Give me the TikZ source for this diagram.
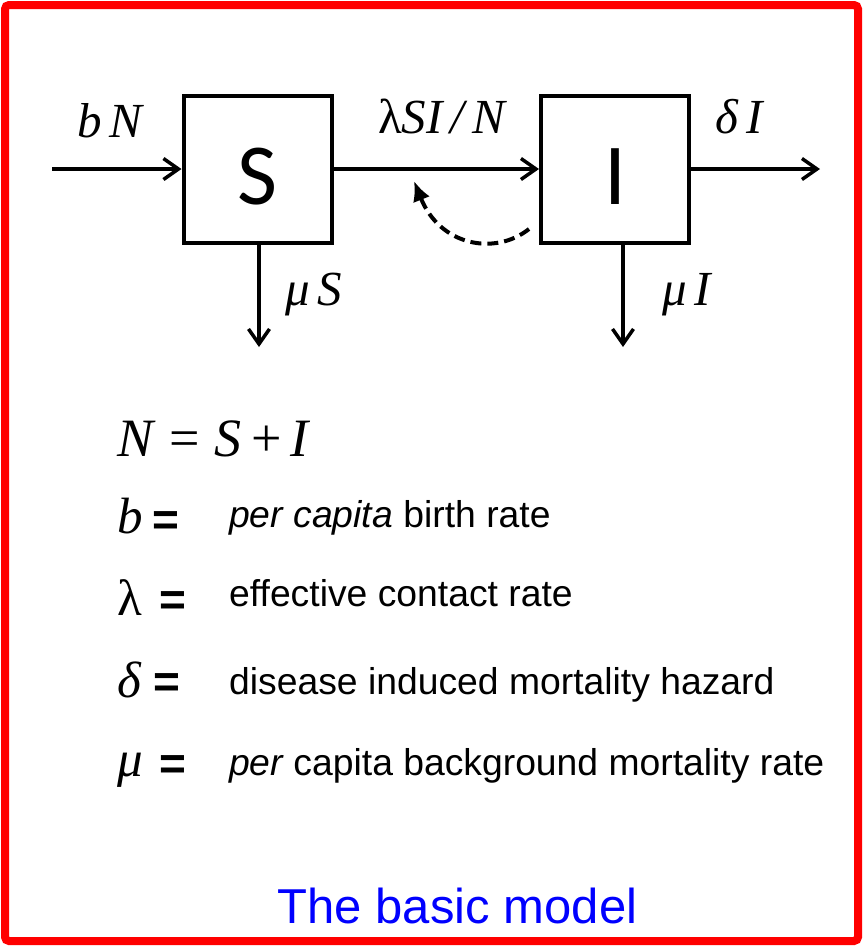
\documentclass[tikz,border=0pt]{standalone}
\usepackage{fontspec}
\setmainfont{Liberation Sans}
\newfontfamily\serif{Liberation Serif}
\newfontfamily\calib{Carlito}
\usetikzlibrary{arrows.meta}
\definecolor{framered}{RGB}{255,0,0}
\definecolor{titleblue}{RGB}{0,0,255}
\begin{document}
\begin{tikzpicture}[x=1pt,y=-1pt,
  compartment/.style={draw,line width=4pt,minimum width=148pt,minimum height=147pt,inner sep=0pt,text height=70pt,text depth=0pt,font=\calib\fontsize{87}{87}\selectfont},
  flow/.style={line width=3.5pt,-{Straight Barb[length=15pt,width=21pt]}},
  feedback/.style={line width=4pt,dash pattern=on 11pt off 6pt,-{Latex[length=20pt,width=18pt]}},
  rate/.style={anchor=base west,inner sep=0pt,font=\serif\fontsize{49}{49}\selectfont},
  sym/.style={anchor=base west,inner sep=0pt,font=\serif\fontsize{51}{51}\selectfont},
  eqsign/.style={anchor=base west,inner sep=0pt,font=\normalfont\bfseries\fontsize{46}{46}\selectfont},
  defn/.style={anchor=base west,inner sep=0pt,font=\fontsize{37.3}{40}\selectfont},
]
\useasboundingbox (0,0) rectangle (863,946);
\fill[white] (0,0) rectangle (863,946);
\draw[framered,line width=8pt,rounded corners=4pt] (5,5) rectangle (858,941);

% compartments
\node[compartment] (S) at (257.5,169) {S};
\node[compartment] (I) at (615,169) {I};

% flows
\coordinate (inflow) at (52,169);
\coordinate (outflow) at (820,169);
\coordinate (Sdown) at (259,347);
\coordinate (Idown) at (623,347);
\draw[flow] (inflow) -- (S.west);
\draw[flow] (S.east) -- (I.west);
\draw[flow] (I.east) -- (outflow);
\draw[flow] (S.south -| Sdown) -- (Sdown);
\draw[flow] (I.south -| Idown) -- (Idown);

% feedback
\coordinate (fbs) at (529,229);
\coordinate (fbe) at (414,181);
\draw[feedback] (fbs) .. controls (495,256) and (440,246) .. (fbe);

% rate labels
\node[rate] (lbN) at (77,137) {\itshape b\,N};
\node[rate] (lforce) at (378,133) {λ\itshape SI\,/\,N};
\node[rate] (ldelta) at (715,133) {\itshape δ\,I};
\node[rate] (lmuS) at (285,305) {\itshape μ\,S};
\node[rate] (lmuI) at (662,305) {\itshape μ\,I};

% definitions
\node[sym,font=\serif\fontsize{54}{54}\selectfont] (Neq) at (117,456) {\itshape N\hspace{0.3em}\upshape=\hspace{0.28em}\itshape S\hspace{0.18em}\upshape+\hspace{0.16em}\itshape I};

\node[sym] (sb) at (117,533) {\itshape b};
\node[eqsign] (eb) at (152,535) {=};
\node[defn] (db) at (229,527) {\itshape per capita\upshape{} birth rate};

\node[sym] (sl) at (117,615) {λ};
\node[eqsign] (el) at (159,615) {=};
\node[defn] (dl) at (229,606) {effective contact rate};

\node[sym] (sd) at (117,697) {\itshape δ};
\node[eqsign] (ed) at (153,697) {=};
\node[defn] (dd) at (229,694) {disease induced mortality hazard};

\node[sym] (sm) at (117,776) {\itshape μ};
\node[eqsign] (em) at (159,779) {=};
\node[defn] (dm) at (229,775) {\itshape per\upshape{} capita background mortality rate};

% title
\node[anchor=base,inner sep=0pt,text=titleblue,font=\fontsize{49}{49}\selectfont] (title) at (457.5,923) {The basic model};
\end{tikzpicture}
\end{document}
